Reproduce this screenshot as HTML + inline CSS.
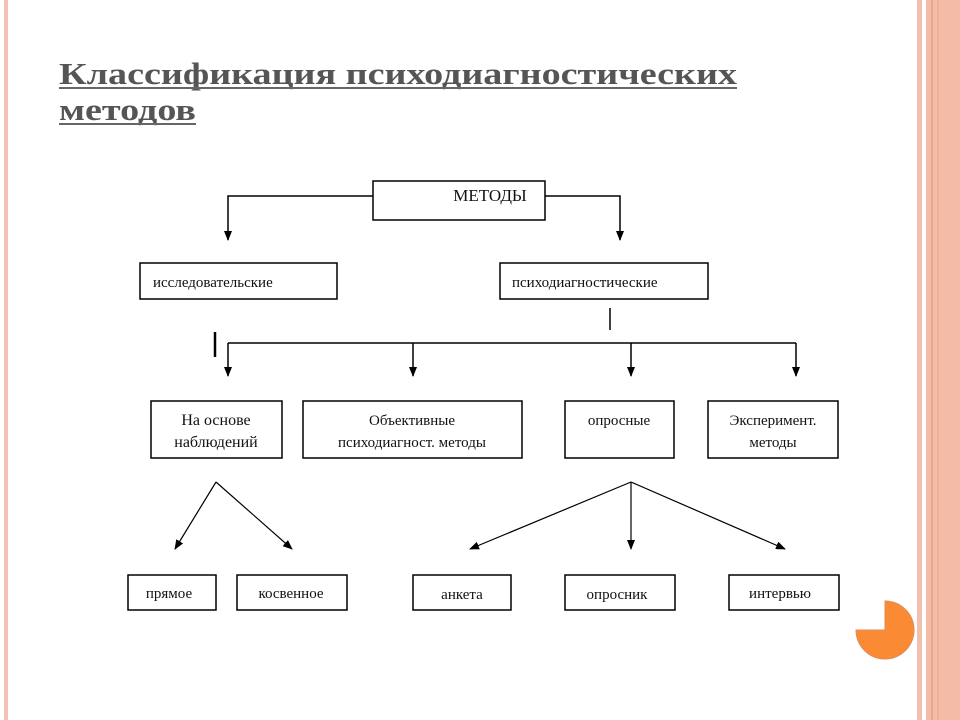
<!DOCTYPE html>
<html><head><meta charset="utf-8"><style>html,body{margin:0;padding:0;background:#fff}svg{display:block}</style></head><body>
<svg width="960" height="720" viewBox="0 0 960 720" xmlns="http://www.w3.org/2000/svg">
<defs>
<marker id="b" markerWidth="10" markerHeight="8" refX="9" refY="4" orient="auto" markerUnits="userSpaceOnUse"><path d="M0,0 L10,4 L0,8 z" fill="#000"/></marker></defs>
<rect x="0" y="0" width="960" height="720" fill="#fff"/>
<rect x="4" y="0" width="4" height="720" fill="#f3c2b2"/>
<rect x="917" y="0" width="5" height="720" fill="#f2c0ae"/>
<rect x="926" y="0" width="34" height="720" fill="#f4bba6"/>
<rect x="931" y="0" width="2" height="720" fill="#eaa688"/>
<rect x="937" y="0" width="2" height="720" fill="#f0b098"/>
<g font-family="Liberation Serif, serif" fill="#555" font-weight="bold">
<text x="59" y="84" font-size="31" textLength="678" lengthAdjust="spacingAndGlyphs">Классификация психодиагностических</text>
<text x="59" y="120" font-size="31" textLength="137" lengthAdjust="spacingAndGlyphs">методов</text>
</g>
<rect x="59" y="87" width="678" height="2" fill="#666"/>
<rect x="59" y="123" width="137" height="2" fill="#666"/>
<g stroke="#000" stroke-width="1.5" fill="none">
<path d="M373,196 H228 V240" marker-end="url(#b)"/>
<path d="M545,196 H620 V240" marker-end="url(#b)"/>
<path d="M610,308 V330"/>
<path d="M215,332 V357" stroke-width="2.5"/>
<path d="M228,343 H796"/>
<path d="M228,343 V376" marker-end="url(#b)"/>
<path d="M413,343 V376" marker-end="url(#b)"/>
<path d="M631,343 V376" marker-end="url(#b)"/>
<path d="M796,343 V376" marker-end="url(#b)"/>
<path d="M216,482 L175,549" stroke-width="1.2" marker-end="url(#b)"/>
<path d="M216,482 L292,549" stroke-width="1.2" marker-end="url(#b)"/>
<path d="M631,482 L470,549" stroke-width="1.2" marker-end="url(#b)"/>
<path d="M631,482 V549" stroke-width="1.2" marker-end="url(#b)"/>
<path d="M631,482 L785,549" stroke-width="1.2" marker-end="url(#b)"/>
</g>
<g stroke="#000" stroke-width="1.5" fill="#fff">
<rect x="373" y="181" width="172" height="39"/>
<rect x="140" y="263" width="197" height="36"/>
<rect x="500" y="263" width="208" height="36"/>
<rect x="151" y="401" width="131" height="57"/>
<rect x="303" y="401" width="219" height="57"/>
<rect x="565" y="401" width="109" height="57"/>
<rect x="708" y="401" width="130" height="57"/>
<rect x="128" y="575" width="88" height="35"/>
<rect x="237" y="575" width="110" height="35"/>
<rect x="413" y="575" width="98" height="35"/>
<rect x="565" y="575" width="110" height="35"/>
<rect x="729" y="575" width="110" height="35"/>
</g>
<g font-family="Liberation Serif, serif" font-size="15" fill="#111">
<text x="490" y="201" text-anchor="middle" font-size="17">МЕТОДЫ</text>
<text x="153" y="287">исследовательские</text>
<text x="512" y="287">психодиагностические</text>
<text x="216" y="425" text-anchor="middle" font-size="16">На основе</text>
<text x="216" y="447" text-anchor="middle" font-size="16">наблюдений</text>
<text x="412" y="425" text-anchor="middle">Объективные</text>
<text x="412" y="447" text-anchor="middle">психодиагност. методы</text>
<text x="619" y="425" text-anchor="middle">опросные</text>
<text x="773" y="425" text-anchor="middle">Эксперимент.</text>
<text x="773" y="447" text-anchor="middle">методы</text>
<text x="169" y="598" text-anchor="middle">прямое</text>
<text x="291" y="598" text-anchor="middle">косвенное</text>
<text x="462" y="599" text-anchor="middle">анкета</text>
<text x="617" y="599" text-anchor="middle">опросник</text>
<text x="780" y="598" text-anchor="middle">интервью</text>
</g>
<path d="M885,630 L885,601 A29,29 0 1 1 856,630 Z" fill="#fb8a35" stroke="#e08a5a" stroke-width="1"/>
</svg>
</body></html>
